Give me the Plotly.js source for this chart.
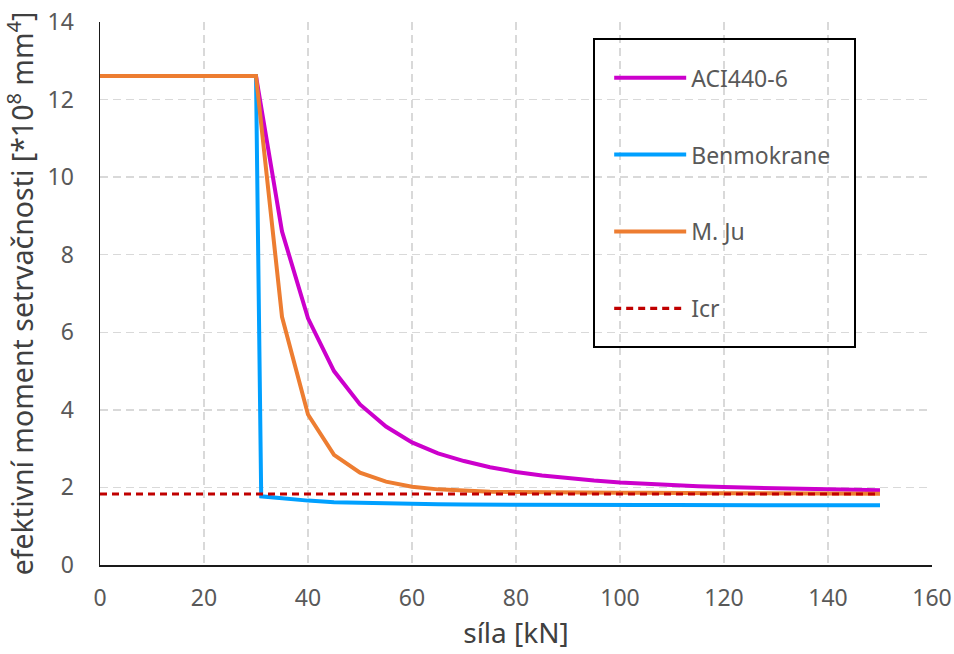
<!DOCTYPE html>
<html>
<head>
<meta charset="utf-8">
<script src="https://cdn.plot.ly/plotly-3.0.1.min.js"></script>
<style>html,body{margin:0;padding:0;background:#fff;}#chart{width:954px;height:654px;}</style>
</head>
<body>
<div id="chart"></div>
<script>
// Data
const forceX = [0,5,10,15,20,25,30,35,40,45,50,55,60,65,70,75,80,85,90,95,100,105,110,115,120,125,130,135,140,145,150];
const aci440 = [12.61,12.61,12.61,12.61,12.61,12.61,12.61,8.6,6.36,5.0,4.14,3.57,3.16,2.88,2.68,2.52,2.40,2.31,2.24,2.18,2.13,2.09,2.06,2.03,2.01,1.99,1.97,1.96,1.95,1.94,1.93];
const mju = [12.61,12.61,12.61,12.61,12.61,12.61,12.61,6.40,3.88,2.84,2.38,2.15,2.02,1.95,1.91,1.89,1.88,1.87,1.87,1.86,1.86,1.86,1.85,1.85,1.85,1.85,1.85,1.84,1.84,1.84,1.84];
const benX = [0,5,10,15,20,25,30,31,35,40,45,50,55,60,65,70,75,80,85,90,95,100,105,110,115,120,125,130,135,140,145,150];
const benmokrane = [12.61,12.61,12.61,12.61,12.61,12.61,12.61,1.77,1.71,1.66,1.62,1.60,1.58,1.57,1.565,1.56,1.555,1.55,1.55,1.55,1.55,1.545,1.545,1.545,1.54,1.54,1.54,1.54,1.54,1.54,1.54,1.54];
const icrX = [0,150];
const icr = [1.83,1.83];
const seriesNames = ["ACI440-6","Benmokrane","M. Ju","Icr"];
const xTicks = [0,20,40,60,80,100,120,140,160];
const yTicks = [0,2,4,6,8,10,12,14];

const traces = [
  {x: forceX, y: aci440, name: seriesNames[0], mode: "lines", line: {color: "#CC00CC", width: 4}, legendgroup: "a", legendrank: 1},
  {x: benX, y: benmokrane, name: seriesNames[1], mode: "lines", line: {color: "#00A0FF", width: 4}, legendgroup: "b", legendrank: 2},
  {x: forceX, y: mju, name: seriesNames[2], mode: "lines", line: {color: "#ED7D31", width: 4}, legendgroup: "c", legendrank: 3},
  {x: icrX, y: icr, name: seriesNames[3], mode: "lines", line: {color: "#C00000", width: 3.2, dash: "7px,5px"}, legendgroup: "d", legendrank: 4}
];

const font = "'Noto Sans', 'Open Sans', sans-serif";
const layout = {
  width: 954, height: 654,
  margin: {l: 100, r: 22, t: 22, b: 89},
  paper_bgcolor: "#fff", plot_bgcolor: "#fff",
  font: {family: font, color: "#595959", size: 23},
  showlegend: true,
  legend: {
    x: 0.612, y: 0.937, xanchor: "left", yanchor: "top",
    bgcolor: "rgba(0,0,0,0)", borderwidth: 0,
    font: {family: font, size: 23, color: "#595959"},
    itemwidth: 72, tracegroupgap: 44, traceorder: "grouped"
  },
  xaxis: {
    range: [0, 160], tickvals: xTicks, ticktext: xTicks.map(String),
    showgrid: true, gridcolor: "#d9d9d9", gridwidth: 1.5, griddash: "8px,5px",
    showline: true, linecolor: "#1a1a1a", linewidth: 1.5,
    zeroline: false, ticks: "outside", ticklen: 12, tickcolor: "rgba(0,0,0,0)",
    tickfont: {size: 23, color: "#595959"},
    title: {text: "síla [kN]", font: {size: 28, color: "#404040"}, standoff: 10}
  },
  yaxis: {
    range: [0, 14], tickvals: yTicks, ticktext: yTicks.map(String),
    showgrid: true, gridcolor: "#d9d9d9", gridwidth: 1.5, griddash: "8px,5px",
    showline: true, linecolor: "#1a1a1a", linewidth: 1.5,
    zeroline: false, ticks: "outside", ticklen: 20, tickcolor: "rgba(0,0,0,0)",
    tickfont: {size: 23, color: "#595959"},
    title: {text: "efektivní moment setrvačnosti [*10<sup>8</sup> mm<sup>4</sup>]", font: {size: 28.5, color: "#404040"}, standoff: 12}
  },
  shapes: [
    {type: "rect", xref: "paper", yref: "paper",
     x0: (594-100)/832, x1: (855-100)/832, y0: (565-347)/543, y1: (565-39)/543,
     line: {color: "#000", width: 2}, fillcolor: "rgba(0,0,0,0)", layer: "above"}
  ]
};
Plotly.newPlot("chart", traces, layout, {displayModeBar: false, staticPlot: true});
</script>
</body>
</html>
